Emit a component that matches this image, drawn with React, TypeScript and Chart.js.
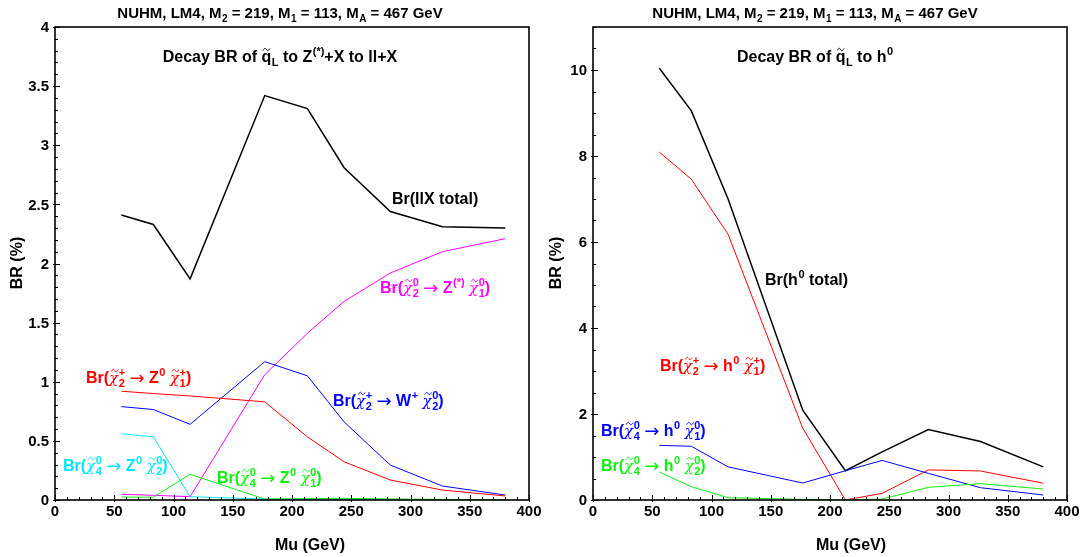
import React, { useEffect, useRef } from "react";
import { Chart, registerables } from "chart.js";

Chart.register(...registerables);

// ---------------- data ----------------
const mu = [56, 83, 114, 177, 213, 244, 283, 327, 380];

// left panel: squark_L -> Z(*) + X -> ll + X  (BR in %)
const llxTotal = [2.41, 2.33, 1.87, 3.42, 3.31, 2.81, 2.44, 2.31, 2.3];
const chi20ToZchi10 = [0.048, 0.04, 0.028, 1.06, 1.41, 1.68, 1.92, 2.1, 2.21];
const chi2pToZchi1p = [0.92, 0.9, 0.88, 0.83, 0.534, 0.323, 0.169, 0.084, 0.034];
const chi2pToWchi20 = [0.79, 0.765, 0.64, 1.17, 1.05, 0.66, 0.295, 0.118, 0.042];
const chi40ToZchi20 = [0.56, 0.534, 0.028, 0.008, 0.004, 0.003, 0.002, 0.001, 0.001];
const chi40ToZchi10 = [0.025, 0.023, 0.217, 0.008, 0.012, 0.014, 0.009, 0.005, 0.003];

// right panel: squark_L -> h0  (BR in %)
const h0Total = [10.04, 9.05, 7.0, 2.09, 0.68, 1.12, 1.64, 1.36, 0.77];
const chi2pToHchi1p = [8.09, 7.46, 6.18, 1.67, 0.0, 0.155, 0.7, 0.675, 0.39];
const chi40ToHchi10 = [1.27, 1.25, 0.77, 0.395, 0.68, 0.92, 0.62, 0.286, 0.116];
const chi40ToHchi20 = [0.65, 0.31, 0.054, 0.015, 0.0, 0.023, 0.295, 0.38, 0.256];

const xTickLabels = [0, 50, 100, 150, 200, 250, 300, 350, 400];
const yTickLabelsLeft = [0, 0.5, 1, 1.5, 2, 2.5, 3, 3.5, 4];
const yTickLabelsRight = [0, 2, 4, 6, 8, 10];

// ---------------- styling ----------------
const FONT = '"Liberation Sans", Arial, Helvetica, sans-serif';
const BLACK = "#000000";
const RED = "#ff0000";
const BLUE = "#0000ff";
const MAGENTA = "#ff00ff";
const CYAN = "#00e8ff";
const GREEN = "#10f010";

type Seg = { t: string; sup?: string; sub?: string; tilde?: boolean; kind?: "greek" | "arrow" };

function segFont(seg: Seg, size: number) {
  if (seg.kind === "greek") return `italic ${size - 1}px "DejaVu Serif", "Liberation Serif", serif`;
  if (seg.kind === "arrow") return `${size + 2}px "DejaVu Sans", sans-serif`;
  return `bold ${size}px ${FONT}`;
}
function scriptFont(size: number) {
  return `bold ${Math.round(size * 0.68)}px ${FONT}`;
}
function segWidth(ctx: CanvasRenderingContext2D, seg: Seg, size: number) {
  ctx.font = segFont(seg, size);
  const bw = ctx.measureText(seg.t).width;
  let sw = 0;
  ctx.font = scriptFont(size);
  if (seg.sup) sw = Math.max(sw, ctx.measureText(seg.sup).width);
  if (seg.sub) sw = Math.max(sw, ctx.measureText(seg.sub).width);
  return { bw, sw: sw > 0 ? sw + 0.5 : 0 };
}
function drawTilde(ctx: CanvasRenderingContext2D, cx: number, cy: number, w: number) {
  ctx.beginPath();
  ctx.moveTo(cx - w / 2, cy + 1);
  ctx.bezierCurveTo(cx - w / 4, cy - 2, cx - w / 8, cy - 1.5, cx, cy);
  ctx.bezierCurveTo(cx + w / 8, cy + 1.5, cx + w / 4, cy + 2, cx + w / 2, cy - 1);
  ctx.lineWidth = 1;
  ctx.stroke();
}
function drawRich(
  ctx: CanvasRenderingContext2D,
  segs: Seg[],
  x: number,
  y: number,
  size: number,
  color: string,
  align: "left" | "center"
) {
  ctx.save();
  ctx.fillStyle = color;
  ctx.strokeStyle = color;
  ctx.textAlign = "left";
  ctx.textBaseline = "alphabetic";
  let total = 0;
  for (const s of segs) {
    const m = segWidth(ctx, s, size);
    total += m.bw + m.sw;
  }
  let cx = align === "center" ? x - total / 2 : x;
  for (const s of segs) {
    const m = segWidth(ctx, s, size);
    ctx.font = segFont(s, size);
    ctx.fillText(s.t, cx, s.kind === "arrow" ? y + 1 : y);
    if (s.tilde) drawTilde(ctx, cx + m.bw / 2 + (s.kind === "greek" ? 1 : 0), y - size * 0.78, size * 0.42);
    ctx.font = scriptFont(size);
    if (s.sup) ctx.fillText(s.sup, cx + m.bw + 0.5, y - size * 0.42);
    if (s.sub) ctx.fillText(s.sub, cx + m.bw + 0.5, y + size * 0.24);
    cx += m.bw + m.sw;
  }
  ctx.restore();
}

const chi = (sub: string, sup: string): Seg => ({ t: "χ", kind: "greek", tilde: true, sub, sup });
const sp: Seg = { t: " " };
const arrowSeg: Seg = { t: "→", kind: "arrow" };

type Label = { segs: Seg[]; x: number; y: number; size: number; color: string; align: "left" | "center" };

const titleSegs: Seg[] = [
  { t: "NUHM, LM4, M", sub: "2" },
  { t: " = 219, M", sub: "1" },
  { t: " = 113, M", sub: "A" },
  { t: " = 467 GeV" },
];

function decayLabel(parentSub: string, parentSup: string, boson: Seg, childSub: string, childSup: string): Seg[] {
  return [{ t: "Br(" }, chi(parentSub, parentSup), sp, arrowSeg, sp, boson, sp, chi(childSub, childSup), { t: ")" }];
}

type Series = { values: number[]; color: string; width: number };
type Panel = {
  id: string;
  canvasLeft: number;
  canvasWidth: number;
  padLeft: number;
  padRight: number;
  yMax: number;
  yTicks: number[];
  yMinorStep: number;
  series: Series[];
  labels: Label[];
  titleX: number;
  yTitleX: number;
  xTitleX: number;
};

const panels: Panel[] = [
  {
    id: "left",
    canvasLeft: 0,
    canvasWidth: 560,
    padLeft: 55,
    padRight: 31,
    yMax: 4,
    yTicks: yTickLabelsLeft,
    yMinorStep: 0.1,
    series: [
      { values: chi40ToZchi10, color: GREEN, width: 1 },
      { values: chi40ToZchi20, color: CYAN, width: 1 },
      { values: chi2pToZchi1p, color: RED, width: 1 },
      { values: chi2pToWchi20, color: BLUE, width: 1 },
      { values: chi20ToZchi10, color: MAGENTA, width: 1 },
      { values: llxTotal, color: BLACK, width: 1.5 },
    ],
    titleX: 280,
    yTitleX: 18,
    xTitleX: 310,
    labels: [
      {
        segs: [{ t: "Decay BR of " }, { t: "q", tilde: true, sub: "L" }, { t: " to Z", sup: "(*)" }, { t: "+X to ll+X" }],
        x: 280, y: 62, size: 16, color: BLACK, align: "center",
      },
      { segs: [{ t: "Br(llX total)" }], x: 392, y: 204, size: 16, color: BLACK, align: "left" },
      { segs: decayLabel("2", "0", { t: "Z", sup: "(*)" }, "1", "0"), x: 380, y: 293, size: 16, color: MAGENTA, align: "left" },
      { segs: decayLabel("2", "+", { t: "Z", sup: "0" }, "1", "+"), x: 86, y: 383, size: 16, color: RED, align: "left" },
      { segs: decayLabel("2", "+", { t: "W", sup: "+" }, "2", "0"), x: 333, y: 406, size: 16, color: BLUE, align: "left" },
      { segs: decayLabel("4", "0", { t: "Z", sup: "0" }, "2", "0"), x: 63, y: 471, size: 16, color: CYAN, align: "left" },
      { segs: decayLabel("4", "0", { t: "Z", sup: "0" }, "1", "0"), x: 217, y: 483, size: 16, color: GREEN, align: "left" },
    ],
  },
  {
    id: "right",
    canvasLeft: 540,
    canvasWidth: 544,
    padLeft: 53,
    padRight: 17,
    yMax: 11,
    yTicks: yTickLabelsRight,
    yMinorStep: 0.5,
    series: [
      { values: chi40ToHchi20, color: GREEN, width: 1 },
      { values: chi40ToHchi10, color: BLUE, width: 1 },
      { values: chi2pToHchi1p, color: RED, width: 1 },
      { values: h0Total, color: BLACK, width: 1.5 },
    ],
    titleX: 815 - 540,
    yTitleX: 557 - 540,
    xTitleX: 851 - 540,
    labels: [
      {
        segs: [{ t: "Decay BR of " }, { t: "q", tilde: true, sub: "L" }, { t: " to h", sup: "0" }],
        x: 815 - 540, y: 62, size: 16, color: BLACK, align: "center",
      },
      { segs: [{ t: "Br(h", sup: "0" }, { t: " total)" }], x: 765 - 540, y: 285, size: 16, color: BLACK, align: "left" },
      { segs: decayLabel("2", "+", { t: "h", sup: "0" }, "1", "+"), x: 660 - 540, y: 371, size: 16, color: RED, align: "left" },
      { segs: decayLabel("4", "0", { t: "h", sup: "0" }, "1", "0"), x: 601 - 540, y: 436, size: 16, color: BLUE, align: "left" },
      { segs: decayLabel("4", "0", { t: "h", sup: "0" }, "2", "0"), x: 601 - 540, y: 471, size: 16, color: GREEN, align: "left" },
    ],
  },
];

function panelPlugin(p: Panel) {
  return {
    id: "panel_" + p.id,
    afterDraw(chart: any) {
      const ctx: CanvasRenderingContext2D = chart.ctx;
      const { left, right, top, bottom } = chart.chartArea;
      const xs = chart.scales.x;
      const ys = chart.scales.y;
      ctx.save();
      ctx.strokeStyle = "#000";
      ctx.fillStyle = "#000";
      // ticks
      ctx.lineWidth = 1;
      ctx.beginPath();
      for (let v = 0; v <= 400 + 1e-9; v += 10) {
        const px = Math.round(xs.getPixelForValue(v)) + 0.5;
        const major = Math.abs(v % 50) < 1e-6;
        ctx.moveTo(px, bottom + (major ? 2 : 0));
        ctx.lineTo(px, bottom - (major ? 5 : 3));
      }
      const nMinor = Math.round(p.yMax / p.yMinorStep);
      for (let i = 0; i <= nMinor; i++) {
        const v = i * p.yMinorStep;
        const py = Math.round(ys.getPixelForValue(v)) + 0.5;
        const major = p.yTicks.some((t) => Math.abs(t - v) < 1e-6);
        ctx.moveTo(left - (major ? 2 : 0), py);
        ctx.lineTo(left + (major ? 5 : 3), py);
      }
      ctx.stroke();
      // frame
      ctx.lineWidth = 1.6;
      ctx.strokeRect(left, top, right - left, bottom - top);
      // tick labels
      ctx.font = `bold 15px ${FONT}`;
      ctx.textAlign = "center";
      ctx.textBaseline = "middle";
      for (const v of xTickLabels) ctx.fillText(String(v), xs.getPixelForValue(v), bottom + 12);
      ctx.textAlign = "right";
      for (const v of p.yTicks) ctx.fillText(String(v), left - 6, ys.getPixelForValue(v) + 1);
      // axis titles
      ctx.font = `bold 16px ${FONT}`;
      ctx.textAlign = "center";
      ctx.textBaseline = "alphabetic";
      ctx.fillText("Mu (GeV)", p.xTitleX, 550);
      ctx.save();
      ctx.translate(p.yTitleX, 263);
      ctx.rotate(-Math.PI / 2);
      ctx.textBaseline = "middle";
      ctx.fillText("BR (%)", 0, 0);
      ctx.restore();
      ctx.restore();
      // title
      drawRich(ctx, titleSegs, p.titleX, 18, 15, BLACK, "center");
      for (const l of p.labels) drawRich(ctx, l.segs, l.x, l.y, l.size, l.color, l.align);
    },
  };
}

function PanelChart({ p }: { p: Panel }) {
  const ref = useRef<HTMLCanvasElement | null>(null);
  useEffect(() => {
    if (!ref.current) return;
    const chart = new Chart(ref.current, {
      type: "line",
      data: {
        datasets: p.series.map((s) => ({
          data: mu.map((x, i) => ({ x, y: s.values[i] })),
          borderColor: s.color,
          backgroundColor: s.color,
          borderWidth: s.width,
          pointRadius: 0,
          fill: false,
          tension: 0,
        })),
      },
      options: {
        responsive: false,
        animation: false,
        devicePixelRatio: 1,
        layout: { padding: { left: p.padLeft, right: p.padRight, top: 27, bottom: 57 } },
        plugins: { legend: { display: false }, tooltip: { enabled: false }, title: { display: false } },
        scales: {
          x: { type: "linear", min: 0, max: 400, display: false },
          y: { type: "linear", min: 0, max: p.yMax, display: false },
        },
      },
      plugins: [panelPlugin(p)],
    } as any);
    return () => chart.destroy();
  }, [p]);
  return (
    <canvas
      ref={ref}
      width={p.canvasWidth}
      height={557}
      style={{ position: "absolute", left: p.canvasLeft, top: 0, width: p.canvasWidth, height: 557 }}
    />
  );
}

export default function App() {
  return (
    <div style={{ position: "absolute", left: 0, top: 0, width: 1084, height: 557, background: "#fff", overflow: "hidden" }}>
      {panels.map((p) => (
        <PanelChart key={p.id} p={p} />
      ))}
    </div>
  );
}
